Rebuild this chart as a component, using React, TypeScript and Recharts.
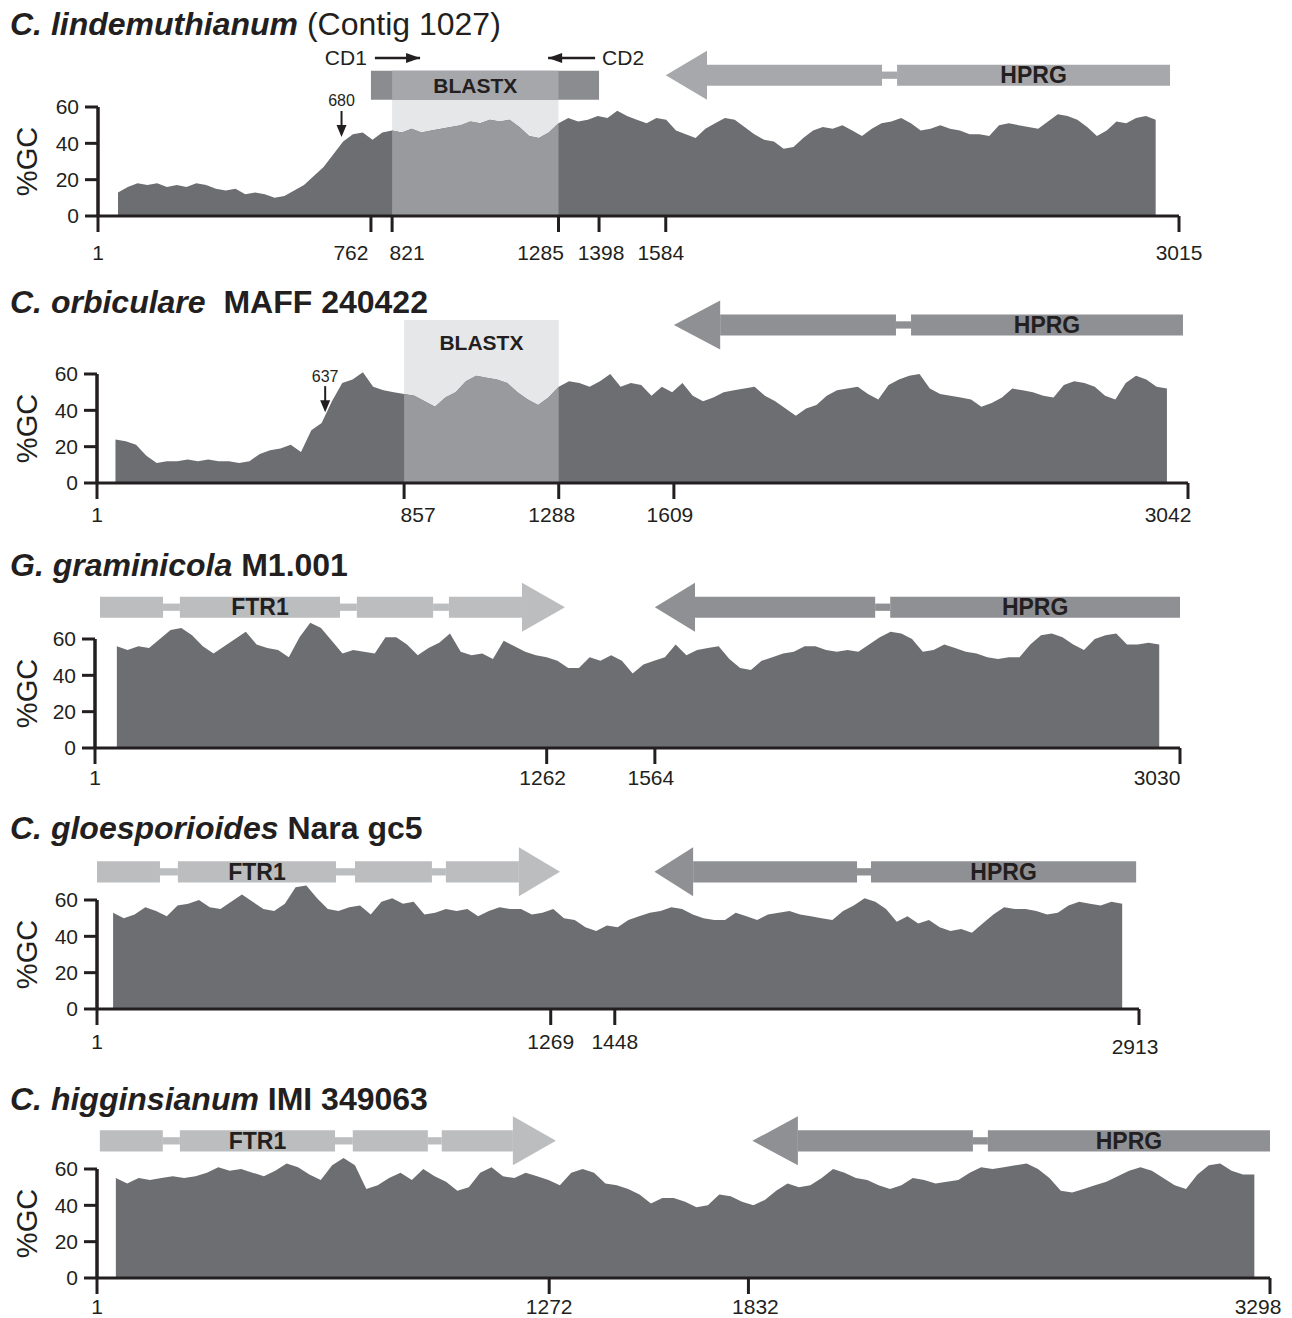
import React from "react";
import {
  AreaChart,
  Area,
  XAxis,
  YAxis,
  ReferenceArea,
  ReferenceDot,
  ReferenceLine,
} from "recharts";

const FONT = '"Liberation Sans", Arial, Helvetica, sans-serif';
const INK = "#231f20";
const DARK = "#6d6e71";
const HILITE = "#999a9d";
const PALE = "#e6e7e8";
const HPRG_COLOR = "#8f9093";
const FTR1_COLOR = "#bcbdbf";

const lindStep = (1285 - 821) / 17;
const lindStart = 821 - 28 * lindStep;
const lindGC = [
  13, 16, 18, 17, 18, 16, 17, 16, 18, 17, 15, 14, 15, 12, 13, 12, 10, 11, 14, 17,
  22, 27, 34, 41, 45, 46, 42, 46, 47, 46, 48, 46, 47, 48, 49, 50, 52, 51, 53, 52,
  53, 49, 44, 43, 46, 51, 54, 52, 53, 55, 54, 58, 55, 53, 51, 54, 53, 47, 45, 43,
  48, 51, 54, 53, 49, 45, 42, 41, 37, 38, 43, 47, 49, 48, 50, 47, 44, 48, 51, 52,
  54, 51, 47, 48, 50, 48, 47, 45, 45, 44, 50, 51, 50, 49, 48, 52, 56, 55, 53, 49,
  44, 47, 52, 51, 54, 55, 53,
];
const lindTicks = [1, 762, 821, 1285, 1398, 1584, 3015];

const orbStep = (1288 - 857) / 15;
const orbStart = 857 - 28 * orbStep;
const orbGC = [
  24, 23, 21, 15, 11, 12, 12, 13, 12, 13, 12, 12, 11, 12, 16, 18, 19, 21, 17, 29,
  33, 45, 55, 57, 61, 53, 51, 50, 49, 48, 45, 42, 47, 50, 56, 59, 58, 57, 55, 50,
  46, 43, 47, 53, 56, 55, 53, 56, 60, 53, 55, 54, 48, 53, 50, 55, 48, 45, 47, 50,
  51, 52, 53, 48, 45, 41, 37, 41, 43, 48, 51, 52, 53, 49, 46, 54, 57, 59, 60, 52,
  49, 48, 47, 46, 42, 44, 47, 52, 51, 50, 48, 47, 54, 56, 55, 53, 48, 46, 55, 59,
  57, 53, 52,
];
const orbTicks = [1, 857, 1288, 1609, 3042];

const gramStep = 30;
const gramStart = 62;
const gramGC = [
  56, 54, 56, 55, 60, 65, 66, 62, 56, 52, 56, 60, 64, 57, 55, 54, 50, 61, 69, 66,
  59, 52, 54, 53, 52, 61, 61, 57, 51, 55, 58, 63, 53, 51, 52, 49, 59, 56, 53, 51,
  50, 48, 44, 44, 50, 48, 51, 48, 41, 46, 48, 50, 57, 51, 54, 55, 56, 49, 44, 43,
  48, 50, 52, 53, 56, 56, 54, 53, 54, 53, 57, 61, 64, 63, 60, 53, 54, 57, 55, 53,
  52, 50, 49, 50, 50, 57, 62, 63, 61, 57, 54, 60, 62, 63, 57, 57, 58, 57,
];
const gramTicks = [1, 1262, 1564, 3030];

const gloeoStep = 30;
const gloeoStart = 46;
const gloeoGC = [
  53, 50, 52, 56, 54, 51, 57, 58, 60, 56, 55, 59, 63, 59, 55, 54, 58, 67, 68, 61,
  55, 54, 56, 57, 52, 59, 61, 58, 59, 52, 53, 55, 54, 55, 51, 54, 56, 55, 55, 52,
  53, 55, 50, 49, 45, 43, 46, 45, 49, 51, 53, 54, 56, 55, 52, 50, 49, 49, 53, 51,
  49, 52, 53, 54, 52, 51, 50, 49, 54, 57, 61, 59, 55, 48, 51, 47, 49, 45, 43, 44,
  42, 47, 52, 56, 55, 55, 54, 52, 53, 57, 59, 58, 57, 59, 58,
];
const gloeoTicks = [1, 1269, 1448, 2913];

const higgStep = 32;
const higgStart = 54;
const higgGC = [
  55, 52, 55, 54, 55, 56, 55, 56, 58, 61, 59, 60, 58, 56, 59, 63, 61, 57, 54, 62,
  66, 62, 49, 51, 55, 58, 54, 60, 56, 53, 48, 50, 58, 61, 56, 55, 58, 56, 54, 51,
  58, 60, 58, 52, 51, 49, 46, 41, 44, 44, 42, 39, 40, 46, 45, 42, 40, 43, 48, 52,
  50, 51, 55, 60, 58, 55, 54, 51, 49, 51, 55, 54, 52, 53, 54, 58, 61, 60, 61, 62,
  63, 60, 55, 48, 47, 49, 51, 53, 56, 59, 61, 59, 55, 51, 49, 57, 62, 63, 59, 57,
  57,
];
const higgTicks = [1, 1272, 1832, 3298];

const rowsFrom = (
  start: number,
  step: number,
  values: number[],
  hiFrom?: number,
  hiTo?: number
) =>
  values.map((gc, i) => {
    const pos = start + i * step;
    const inHi =
      hiFrom != null && hiTo != null && pos >= hiFrom - 1e-6 && pos <= hiTo + 1e-6;
    return { pos, gc, hi: inHi ? gc : null };
  });

const Head = (props: any) => {
  const { x, y, width, height, right, fill } = props;
  const pts = right
    ? `${x},${y} ${x + width},${y + height / 2} ${x},${y + height}`
    : `${x + width},${y} ${x},${y + height / 2} ${x + width},${y + height}`;
  return <polygon points={pts} fill={fill} />;
};

const geneLabel = (text: string) => ({
  value: text,
  position: "center" as const,
  fill: INK,
  fontSize: 23,
  fontWeight: "bold",
  fontFamily: FONT,
});

interface Gene {
  id: string;
  exons: number[][];
  head: number[];
  c: number;
  color: string;
  label: string;
  labelOn: number;
}

function geneArrow(g: Gene) {
  const els: React.ReactNode[] = [];
  const right = g.head[1] > g.head[0];
  g.exons.forEach((e, i) => {
    els.push(
      <ReferenceArea
        key={`${g.id}-e${i}`}
        x1={e[0]}
        x2={e[1]}
        y1={g.c - 5.8}
        y2={g.c + 5.8}
        fill={g.color}
        fillOpacity={1}
        stroke="none"
        ifOverflow="visible"
        label={i === g.labelOn ? geneLabel(g.label) : undefined}
      />
    );
    if (i < g.exons.length - 1) {
      els.push(
        <ReferenceArea
          key={`${g.id}-i${i}`}
          x1={e[1]}
          x2={g.exons[i + 1][0]}
          y1={g.c - 2}
          y2={g.c + 2}
          fill={g.color}
          fillOpacity={1}
          stroke="none"
          ifOverflow="visible"
        />
      );
    }
  });
  els.push(
    <ReferenceArea
      key={`${g.id}-h`}
      x1={g.head[0]}
      x2={g.head[1]}
      y1={g.c - 13.5}
      y2={g.c + 13.5}
      ifOverflow="visible"
      shape={(p: any) => <Head {...p} right={right} fill={g.color} />}
    />
  );
  return els;
}

const Primer = (props: any) => {
  const { x, y, width, height, right, text } = props;
  const cy = y + height / 2;
  const tip = right ? x + width : x;
  const back = right ? tip - 14 : tip + 14;
  return (
    <g>
      <line x1={x} x2={x + width} y1={cy} y2={cy} stroke={INK} strokeWidth={2.5} />
      <polygon points={`${back},${cy - 5} ${tip},${cy} ${back},${cy + 5}`} fill={INK} />
      <text
        x={right ? x - 8 : x + width + 7}
        y={cy}
        textAnchor={right ? "end" : "start"}
        dominantBaseline="central"
        fontSize={21}
        fontFamily={FONT}
        fill={INK}
      >
        {text}
      </text>
    </g>
  );
};

const Callout = (props: any) => {
  const { cx, cy, text } = props;
  return (
    <g>
      <line x1={cx} x2={cx} y1={cy - 26} y2={cy - 10} stroke={INK} strokeWidth={2} />
      <polygon points={`${cx - 5},${cy - 12} ${cx + 5},${cy - 12} ${cx},${cy}`} fill={INK} />
      <text
        x={cx}
        y={cy - 36}
        textAnchor="middle"
        dominantBaseline="central"
        fontSize={16}
        fontFamily={FONT}
        fill={INK}
      >
        {text}
      </text>
    </g>
  );
};

// rotated "%GC" axis title, anchored to the middle of the 0-60 range
const GcTitle = (props: any) => {
  const { cx, cy, back } = props;
  const x = cx - back;
  return (
    <text
      x={x}
      y={cy}
      transform={`rotate(-90, ${x}, ${cy})`}
      textAnchor="middle"
      dominantBaseline="central"
      fontSize={29}
      fontFamily={FONT}
      fill={INK}
    >
      %GC
    </text>
  );
};

const XTick = (props: any) => {
  const { x, y, payload, shifts, drops } = props;
  const v = payload.value;
  const dx = (shifts && shifts[v]) || 0;
  const dy = (drops && drops[v]) || 0;
  return (
    <text
      x={x + dx}
      y={y + dy}
      dy="0.71em"
      textAnchor="middle"
      fontSize={21}
      fontFamily={FONT}
      fill={INK}
    >
      {v}
    </text>
  );
};

interface PanelProps {
  baseline: number;
  plotLeft: number;
  plotRight: number;
  max: number;
  ticks: number[];
  labelGap: number;
  shifts?: Record<number, number>;
  drops?: Record<number, number>;
  rows: { pos: number; gc: number; hi: number | null }[];
  before?: React.ReactNode;
  after?: React.ReactNode;
}

// y domain runs to 72 so peaks above 60 are drawn, while the axis line stops at 60
function Panel({ baseline, plotLeft, plotRight, max, ticks, labelGap, shifts, drops, rows, before, after }: PanelProps) {
  return (
    <div style={{ position: "absolute", left: 0, top: baseline - 189 }}>
      <AreaChart
        width={1292}
        height={239}
        data={rows}
        margin={{ top: 58.2, right: 1292 - plotRight, bottom: 0, left: 0 }}
      >
        <XAxis
          type="number"
          dataKey="pos"
          domain={[1, max]}
          ticks={ticks}
          interval={0}
          height={50}
          tickSize={16}
          tickMargin={labelGap}
          allowDataOverflow
          axisLine={{ stroke: INK, strokeWidth: 3 }}
          tickLine={{ stroke: INK, strokeWidth: 3 }}
          tick={(p: any) => <XTick {...p} shifts={shifts} drops={drops} />}
        />
        <YAxis
          type="number"
          domain={[0, 72]}
          ticks={[0, 20, 40, 60]}
          interval={0}
          width={plotLeft}
          tickSize={13}
          tickMargin={6}
          axisLine={false}
          tickLine={{ stroke: INK, strokeWidth: 3 }}
          tick={{ fill: INK, fontSize: 21, fontFamily: FONT }}
        />
        {before}
        <Area
          type="linear"
          dataKey="gc"
          stroke="none"
          fill={DARK}
          fillOpacity={1}
          dot={false}
          activeDot={false}
          isAnimationActive={false}
        />
        <Area
          type="linear"
          dataKey="hi"
          stroke="none"
          fill={HILITE}
          fillOpacity={1}
          dot={false}
          activeDot={false}
          connectNulls={false}
          isAnimationActive={false}
        />
        <ReferenceLine
          segment={[
            { x: 1, y: 0 },
            { x: 1, y: 60 },
          ]}
          stroke={INK}
          strokeWidth={3.5}
          ifOverflow="visible"
        />
        <ReferenceDot
          x={1}
          y={30}
          ifOverflow="visible"
          shape={(p: any) => <GcTitle {...p} back={plotLeft - 27} />}
        />
        {after}
      </AreaChart>
    </div>
  );
}

const Title = ({ baseline, italic, rest, restBold }: { baseline: number; italic: string; rest: string; restBold: boolean }) => (
  <div
    style={{
      position: "absolute",
      left: 10,
      top: baseline - 27,
      fontFamily: FONT,
      fontSize: 32,
      lineHeight: "32px",
      color: INK,
      whiteSpace: "pre",
    }}
  >
    <span style={{ fontWeight: "bold", fontStyle: "italic" }}>{italic}</span>
    <span style={{ fontWeight: restBold ? "bold" : "normal" }}>{rest}</span>
  </div>
);

export default function App() {
  const lindRows = rowsFrom(lindStart, lindStep, lindGC, 821, 1285);
  const orbRows = rowsFrom(orbStart, orbStep, orbGC, 857, 1288);
  const gramRows = rowsFrom(gramStart, gramStep, gramGC);
  const gloeoRows = rowsFrom(gloeoStart, gloeoStep, gloeoGC);
  const higgRows = rowsFrom(higgStart, higgStep, higgGC);

  return (
    <div
      style={{
        position: "absolute",
        left: 0,
        top: 0,
        width: 1292,
        height: 1318,
        background: "#fff",
        overflow: "hidden",
      }}
    >
      <Title baseline={35} italic="C. lindemuthianum" rest=" (Contig 1027)" restBold={false} />
      <Panel
        baseline={216}
        plotLeft={98}
        plotRight={1179}
        max={3015}
        ticks={lindTicks}
        labelGap={13}
        shifts={{ 762: -20, 821: 15, 1285: -18, 1398: 2, 1584: -5 }}
        rows={lindRows}
        before={
          <ReferenceArea x1={821} x2={1285} y1={0} y2={64} fill={PALE} fillOpacity={1} stroke="none" ifOverflow="visible" />
        }
        after={
          <>
            <ReferenceArea x1={762} x2={1398} y1={64} y2={80} fill="#8b8c8f" fillOpacity={1} stroke="none" ifOverflow="visible" />
            <ReferenceArea
              x1={821}
              x2={1285}
              y1={64}
              y2={80}
              fill="#a6a7aa"
              fillOpacity={1}
              stroke="none"
              ifOverflow="visible"
              label={{ ...geneLabel("BLASTX"), fontSize: 21 }}
            />
            <ReferenceArea
              x1={773}
              x2={899}
              y1={86}
              y2={88}
              ifOverflow="visible"
              shape={(p: any) => <Primer {...p} right text="CD1" />}
            />
            <ReferenceArea
              x1={1256}
              x2={1387}
              y1={86}
              y2={88}
              ifOverflow="visible"
              shape={(p: any) => <Primer {...p} right={false} text="CD2" />}
            />
            <ReferenceDot x={680} y={43.5} ifOverflow="visible" shape={(p: any) => <Callout {...p} text="680" />} />
            {geneArrow({
              id: "lind-hprg",
              exons: [
                [1699, 2187],
                [2229, 2990],
              ],
              head: [1699, 1584],
              c: 77.5,
              color: "#a7a8ab",
              label: "HPRG",
              labelOn: 1,
            })}
          </>
        }
      />

      <Title baseline={313} italic="C. orbiculare" rest={"\u00a0 MAFF 240422"} restBold />
      <Panel
        baseline={483}
        plotLeft={97}
        plotRight={1188}
        max={3042}
        ticks={orbTicks}
        labelGap={8}
        shifts={{ 857: 14, 1288: -7, 1609: -4, 3042: -20 }}
        rows={orbRows}
        before={
          <ReferenceArea x1={857} x2={1288} y1={0} y2={89.7} fill={PALE} fillOpacity={1} stroke="none" ifOverflow="visible" />
        }
        after={
          <>
            <ReferenceArea
              x1={857}
              x2={1288}
              y1={72}
              y2={83}
              fillOpacity={0}
              stroke="none"
              ifOverflow="visible"
              label={{ ...geneLabel("BLASTX"), fontSize: 21 }}
            />
            <ReferenceDot x={637} y={39} ifOverflow="visible" shape={(p: any) => <Callout {...p} text="637" />} />
            {geneArrow({
              id: "orb-hprg",
              exons: [
                [1738, 2228],
                [2270, 3028],
              ],
              head: [1738, 1609],
              c: 87,
              color: HPRG_COLOR,
              label: "HPRG",
              labelOn: 1,
            })}
          </>
        }
      />

      <Title baseline={576} italic="G. graminicola" rest=" M1.001" restBold />
      <Panel
        baseline={748}
        plotLeft={95}
        plotRight={1180}
        max={3030}
        ticks={gramTicks}
        labelGap={6}
        shifts={{ 1262: -4, 1564: -4, 3030: -23 }}
        rows={gramRows}
        after={
          <>
            {geneArrow({
              id: "gram-ftr1",
              exons: [
                [15, 191],
                [238, 685],
                [732, 945],
                [989, 1193],
              ],
              head: [1193, 1313],
              c: 77.5,
              color: FTR1_COLOR,
              label: "FTR1",
              labelOn: 1,
            })}
            {geneArrow({
              id: "gram-hprg",
              exons: [
                [1676, 2179],
                [2221, 3030],
              ],
              head: [1676, 1564],
              c: 77.5,
              color: HPRG_COLOR,
              label: "HPRG",
              labelOn: 1,
            })}
          </>
        }
      />

      <Title baseline={839} italic="C. gloesporioides" rest=" Nara gc5" restBold />
      <Panel
        baseline={1009}
        plotLeft={97}
        plotRight={1139}
        max={2913}
        ticks={gloeoTicks}
        labelGap={9}
        shifts={{ 2913: -4 }}
        drops={{ 2913: 5 }}
        rows={gloeoRows}
        after={
          <>
            {geneArrow({
              id: "gloeo-ftr1",
              exons: [
                [1, 177],
                [227, 669],
                [722, 937],
                [976, 1180],
              ],
              head: [1180, 1295],
              c: 75.5,
              color: FTR1_COLOR,
              label: "FTR1",
              labelOn: 1,
            })}
            {geneArrow({
              id: "gloeo-hprg",
              exons: [
                [1667, 2125],
                [2164, 2905],
              ],
              head: [1667, 1559],
              c: 75.5,
              color: HPRG_COLOR,
              label: "HPRG",
              labelOn: 1,
            })}
          </>
        }
      />

      <Title baseline={1110} italic="C. higginsianum" rest=" IMI 349063" restBold />
      <Panel
        baseline={1278}
        plotLeft={97}
        plotRight={1270}
        max={3298}
        ticks={higgTicks}
        labelGap={5}
        shifts={{ 1832: 7, 3298: -12 }}
        rows={higgRows}
        after={
          <>
            {geneArrow({
              id: "higg-ftr1",
              exons: [
                [9, 186],
                [234, 670],
                [720, 931],
                [970, 1170],
              ],
              head: [1170, 1291],
              c: 75.5,
              color: FTR1_COLOR,
              label: "FTR1",
              labelOn: 1,
            })}
            {geneArrow({
              id: "higg-hprg",
              exons: [
                [1971, 2463],
                [2505, 3298],
              ],
              head: [1971, 1843],
              c: 75.5,
              color: HPRG_COLOR,
              label: "HPRG",
              labelOn: 1,
            })}
          </>
        }
      />
    </div>
  );
}
